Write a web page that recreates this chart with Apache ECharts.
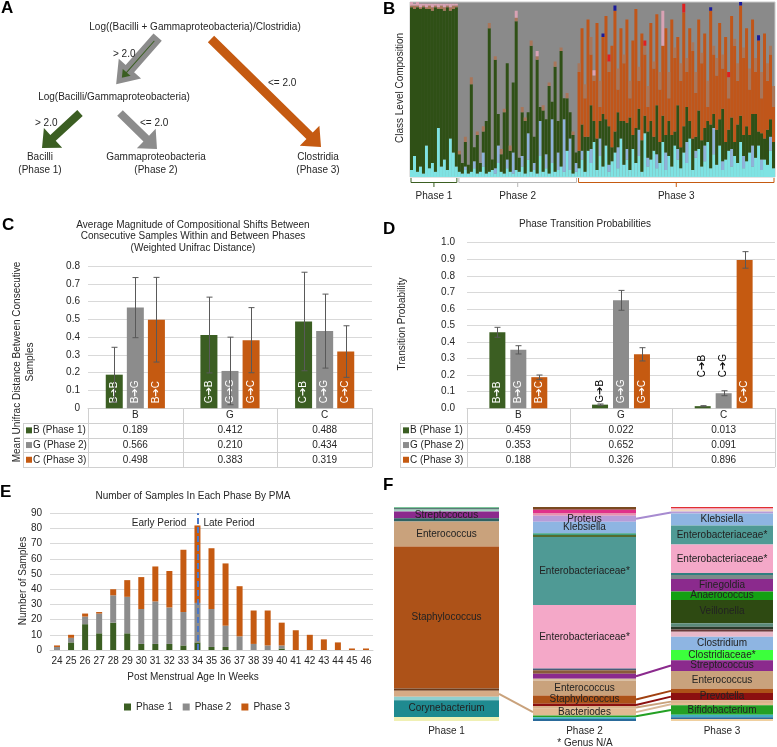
<!DOCTYPE html>
<html><head><meta charset="utf-8">
<script src="https://cdn.jsdelivr.net/npm/echarts@6/dist/echarts.min.js"></script>
<style>html,body{margin:0;padding:0;background:#fff}#c{width:777px;height:747px}</style>
</head><body><div id="c"></div>
<script>
// ======================= DATA =======================
// Panel A: decision tree texts
const aRootRule = 'Log((Bacilli + Gammaproteobacteria)/Clostridia)';
const aSubRule = 'Log(Bacilli/Gammaproteobacteria)';
const aLeaves = [['Bacilli', '(Phase 1)'], ['Gammaproteobacteria', '(Phase 2)'], ['Clostridia', '(Phase 3)']];
const aThresholds = ['> 2.0', '<= 2.0', '> 2.0', '<= 2.0'];

// Panel B: class level composition (% per sample), stacked bottom->top; remainder is Gammaproteobacteria
const bPhaseNames = ['Phase 1', 'Phase 2', 'Phase 3'];
const bCyanP1 = [4, 12, 3, 6, 2, 18, 5, 8, 3, 28, 6, 10, 4, 22, 14, 6];
const bLblueP1 = [0, 0, 0, 0, 0, 0, 0, 0, 0, 0, 0, 0, 0, 0, 0, 0];
const bGreenP1 = [93, 84, 94, 90, 95, 78, 91, 87, 94, 68, 90, 85, 93, 73, 82, 91];
const bOrangeP1 = [0, 0, 0, 0, 0, 0, 0, 0, 0, 0, 0, 0, 0, 0, 0, 0];
const bTanP1 = [1, 2, 1, 1, 1, 1, 2, 2, 1, 1, 2, 2, 1, 2, 2, 1];
const bPinkP1 = [2, 1, 2, 2, 1, 2, 1, 2, 1, 2, 1, 2, 1, 2, 1, 1];
const bRedP1 = [0, 0, 0, 0, 0, 0, 0, 0, 0, 0, 0, 0, 0, 0, 0, 0];
const bNavyP1 = [0, 0, 0, 0, 0, 0, 0, 0, 0, 0, 0, 0, 0, 0, 0, 0];

const bCyanP2 = [3, 2, 4, 2, 3, 5, 2, 3, 6, 2, 3, 4, 2, 8, 3, 2, 5, 3, 2, 4, 3, 6, 2, 10, 3, 4, 2, 12, 3, 5, 2, 8, 3, 4, 6, 3, 15, 4, 2, 3];
const bLblueP2 = [0, 0, 2, 0, 0, 4, 0, 0, 8, 0, 0, 0, 3, 10, 0, 0, 5, 0, 12, 0, 0, 6, 0, 15, 0, 4, 0, 20, 0, 8, 0, 25, 0, 10, 0, 30, 0, 18, 0, 5];
const bGreenP2 = [10, 6, 14, 5, 50, 8, 22, 5, 12, 30, 82, 6, 62, 18, 10, 35, 55, 12, 40, 85, 8, 25, 30, 12, 72, 15, 65, 8, 35, 20, 50, 10, 60, 18, 66, 12, 30, 15, 22, 6];
const bOrangeP2 = [0, 0, 0, 0, 0, 0, 0, 0, 0, 0, 0, 0, 0, 0, 0, 0, 0, 0, 0, 0, 0, 0, 0, 0, 0, 0, 0, 0, 0, 0, 0, 0, 0, 0, 0, 0, 0, 0, 0, 0];
const bTanP2 = [2, 0, 3, 0, 4, 0, 2, 0, 3, 0, 3, 0, 2, 0, 3, 2, 0, 3, 0, 2, 0, 3, 2, 0, 3, 0, 2, 0, 3, 0, 2, 0, 3, 0, 2, 0, 3, 0, 2, 0];
const bPinkP2 = [0, 0, 0, 0, 0, 0, 0, 0, 0, 0, 0, 0, 0, 0, 0, 0, 0, 0, 0, 4, 0, 0, 0, 0, 0, 0, 3, 0, 0, 0, 0, 0, 0, 0, 0, 0, 0, 0, 0, 0];
const bRedP2 = [0, 0, 0, 0, 0, 0, 0, 0, 0, 0, 0, 0, 0, 0, 0, 0, 0, 0, 0, 0, 0, 0, 0, 0, 0, 0, 0, 0, 0, 0, 0, 0, 0, 0, 0, 0, 0, 0, 0, 0];
const bNavyP2 = [0, 0, 0, 0, 0, 0, 0, 0, 0, 0, 0, 0, 0, 0, 0, 0, 0, 0, 0, 0, 0, 0, 0, 0, 0, 0, 0, 0, 0, 0, 0, 0, 0, 0, 0, 0, 0, 0, 0, 0];

const bCyanP3 = [5, 10, 3, 15, 8, 20, 4, 12, 6, 18, 3, 9, 14, 5, 22, 7, 10, 4, 16, 8, 12, 3, 25, 6, 10, 15, 5, 8, 20, 4, 12, 6, 18, 10, 5, 14, 8, 22, 4, 11, 16, 6, 9, 20, 5, 13, 7, 18, 4, 10, 15, 6, 12, 8, 20, 5, 9, 14, 6, 11, 18, 4, 10, 7, 15, 5];
const bLblueP3 = [0, 5, 0, 0, 8, 0, 0, 10, 0, 0, 4, 0, 0, 12, 0, 0, 6, 0, 0, 0, 15, 0, 0, 5, 0, 0, 8, 0, 0, 10, 0, 0, 0, 6, 0, 0, 12, 0, 0, 4, 0, 0, 9, 0, 0, 15, 0, 0, 5, 0, 0, 10, 0, 0, 0, 7, 0, 0, 12, 0, 0, 6, 0, 0, 8, 0];
const bGreenP3 = [10, 15, 20, 8, 25, 12, 18, 10, 30, 15, 22, 8, 12, 20, 10, 25, 15, 30, 8, 20, 12, 18, 10, 15, 22, 8, 28, 12, 15, 10, 20, 18, 8, 25, 12, 15, 20, 10, 18, 8, 22, 15, 10, 12, 25, 8, 20, 15, 30, 10, 12, 18, 8, 22, 15, 12, 20, 10, 18, 25, 8, 15, 12, 20, 10, 15];
const bOrangeP3 = [45, 55, 22, 67, 29, 23, 66, 8, 44, 59, 31, 58, 69, 13, 53, 33, 59, 11, 54, 68, 16, 61, 35, 14, 56, 39, 52, 30, 40, 61, 13, 66, 42, 39, 38, 65, 20, 53, 50, 25, 52, 44, 54, 8, 65, 34, 31, 55, 23, 60, 18, 58, 55, 25, 63, 44, 56, 26, 54, 24, 52, 20, 60, 28, 37, 20];
const bTanP3 = [5, 0, 8, 0, 10, 3, 0, 15, 0, 0, 6, 0, 0, 12, 0, 5, 0, 10, 0, 0, 8, 0, 5, 12, 0, 4, 0, 10, 0, 0, 15, 0, 6, 0, 10, 0, 8, 0, 5, 12, 0, 6, 0, 15, 0, 5, 10, 0, 8, 0, 12, 0, 4, 10, 0, 6, 0, 12, 0, 8, 0, 15, 0, 10, 5, 12];
const bPinkP3 = [0, 0, 0, 0, 0, 3, 0, 0, 0, 0, 0, 0, 0, 0, 0, 0, 0, 0, 0, 0, 0, 0, 0, 0, 0, 0, 0, 0, 20, 0, 0, 0, 0, 0, 0, 0, 0, 0, 0, 0, 0, 0, 0, 0, 0, 0, 0, 0, 0, 0, 0, 0, 0, 0, 0, 0, 0, 0, 0, 0, 0, 0, 0, 0, 0, 0];
const bRedP3 = [0, 0, 0, 0, 0, 0, 0, 0, 0, 0, 4, 0, 0, 0, 0, 0, 0, 0, 0, 0, 0, 0, 3, 0, 0, 0, 0, 0, 0, 0, 0, 0, 0, 0, 0, 5, 0, 0, 0, 0, 0, 0, 0, 0, 0, 0, 0, 0, 0, 0, 3, 0, 0, 0, 0, 0, 0, 0, 0, 0, 0, 0, 0, 0, 0, 0];
const bNavyP3 = [0, 0, 0, 0, 0, 0, 0, 0, 2, 0, 0, 0, 3, 0, 0, 0, 0, 0, 0, 0, 0, 0, 0, 0, 0, 0, 0, 0, 0, 0, 0, 0, 0, 0, 0, 0, 0, 0, 0, 0, 0, 0, 0, 0, 2, 0, 0, 0, 0, 0, 0, 0, 0, 0, 2, 0, 0, 0, 0, 0, 3, 0, 0, 0, 0, 0];

// Panels C & D: transitions (rows = destination phase series, columns = origin phase)
const transCats = ['B', 'G', 'C'];
const transRowNames = ['B (Phase 1)', 'G (Phase 2)', 'C (Phase 3)'];
const cTitle = ['Average Magnitude of Compositional Shifts Between', 'Consecutive Samples Within and Between Phases', '(Weighted Unifrac Distance)'];
const cToB = [0.189, 0.412, 0.488];
const cToG = [0.566, 0.210, 0.434];
const cToC = [0.498, 0.383, 0.319];
const cErrB = [0.154, 0.213, 0.277];
const cErrG = [0.169, 0.190, 0.208];
const cErrC = [0.238, 0.183, 0.145];
const dTitle = 'Phase Transition Probabilities';
const dToB = [0.459, 0.022, 0.013];
const dToG = [0.353, 0.652, 0.091];
const dToC = [0.188, 0.326, 0.896];
const dErrB = [0.030, 0.004, 0.003];
const dErrG = [0.025, 0.060, 0.015];
const dErrC = [0.013, 0.040, 0.050];

// Panel E: samples per phase by PMA
const eTitle = 'Number of Samples In Each Phase By PMA';
const eWeeks = ['24', '25', '26', '27', '28', '29', '30', '31', '32', '33', '34', '35', '36', '37', '38', '39', '40', '41', '42', '43', '44', '45', '46'];
const ePhase1 = [0, 5, 17, 11, 18, 11, 4, 4, 4, 3, 5, 2, 2, 0, 0, 0, 1, 0, 0, 0, 0, 0, 0];
const ePhase2 = [2, 3, 5, 13, 18, 24, 23, 28, 24, 22, 26, 25, 14, 9, 4, 3, 2, 0, 0, 0, 0, 0, 0];
const ePhase3 = [1, 2, 2, 1, 4, 11, 21, 23, 24, 41, 51, 40, 41, 33, 22, 23, 15, 13, 10, 7, 5, 1, 1];
const eDivideWeek = '34';

// Panel F: genus level composition per phase (% top->bottom)
const fPhases = ['Phase 1', 'Phase 2', 'Phase 3'];
const fP1Taxa = ['Other 1', 'Other 2', 'Other 3', 'Streptococcus', 'Other 4', 'Enterococcus', 'Staphylococcus', 'Other 5', 'Bacteriodes', 'Other 6', 'Corynebacterium', 'Other 7'];
const fP1Pct = [0.6, 0.6, 0.9, 3.1, 1.6, 11.6, 66.4, 1.1, 2.8, 1.6, 7.8, 1.9];
const fP1Shown = ['Streptococcus', 'Enterococcus', 'Staphylococcus', 'Corynebacterium'];
const fP2Taxa = ['Other 1', 'Other 2', 'Other 3', 'Proteus', 'Klebsiella', 'Other 4', 'Other 5', 'Enterobacteriaceae*', 'Enterobacteriaceae*', 'Other 6', 'Other 7', 'Streptococcus', 'Other 8', 'Enterococcus', 'Staphylococcus', 'Prevotella', 'Other 9', 'Bacteriodes', 'Bifidobacterium', 'Other 10', 'Other 11'];
const fP2Pct = [1.25, 1.6, 1.25, 2.8, 5.3, 0.9, 0.9, 31.7, 29.7, 0.8, 1.6, 2.3, 0.8, 7.0, 3.9, 1.1, 1.25, 3.1, 0.8, 0.9, 0.9];
const fP2Shown = ['Proteus', 'Klebsiella', 'Enterobacteriaceae*', 'Enterococcus', 'Staphylococcus', 'Bacteriodes'];
const fP3Taxa = ['Other 1', 'Other 2', 'Other 3', 'Proteus', 'Klebsiella', 'Enterobacteriaceae*', 'Enterobacteriaceae*', 'Other 4', 'Other 5', 'Finegoldia', 'Anaerococcus', 'Veillonella', 'Other 6', 'Other 7', 'Other 8', 'Other 9', 'Clostridium', 'Clostridiaceae*', 'Streptococcus', 'Enterococcus', 'Staphylococcus', 'Prevotella', 'Other 10', 'Bacteriodes', 'Bifidobacterium', 'Other 11', 'Other 12', 'Other 13'];
const fP3Pct = [0.6, 0.6, 0.9, 0.9, 5.6, 8.9, 13.3, 0.9, 1.9, 5.8, 3.9, 10.9, 1.6, 1.25, 1.1, 2.3, 6.25, 4.7, 5.0, 8.3, 2.0, 3.4, 1.25, 1.1, 4.4, 1.1, 0.9, 0.9];
const fP3Shown = ['Klebsiella', 'Enterobacteriaceae*', 'Finegoldia', 'Anaerococcus', 'Veillonella', 'Clostridium', 'Clostridiaceae*', 'Streptococcus', 'Enterococcus', 'Prevotella', 'Bifidobacterium'];
const fLinks = [[0, 'Bacteriodes', 1, 'Bacteriodes'], [1, 'Proteus', 2, 'Proteus'], [1, 'Streptococcus', 2, 'Streptococcus'], [1, 'Staphylococcus', 2, 'Staphylococcus'], [1, 'Prevotella', 2, 'Prevotella'], [1, 'Other 9', 2, 'Other 10'], [1, 'Bacteriodes', 2, 'Bacteriodes'], [1, 'Bifidobacterium', 2, 'Bifidobacterium']];
const fNote = '* Genus N/A';

// ======================= STYLE / LAYOUT =======================
const FONT = '"Liberation Sans", Arial, "DejaVu Sans", sans-serif';
const TXT = '#262626';
const GREEN = '#3b5e22', GRAY = '#8c8c8c', ORANGE = '#c55a11';
const phaseCols = [GREEN, GRAY, ORANGE];
const bColors = ['#7fe3e3', '#8eb2da', '#2f5016', '#c0561a', '#a8765a', '#d9a2b4', '#e02020', '#1a1a9a'];
const bSeriesNames = ['Actinobacteria', 'Bacteroidia', 'Bacilli', 'Clostridia', 'Other Clostridia', 'Other a', 'Other b', 'Other c'];
const fP1Colors = ['#7cc79a', '#2f5050', '#a6d4c4', '#8b2a8d', '#2f6262', '#c9a27c', '#ad5218', '#6b3a1a', '#d6ab86', '#8fd0d0', '#1f8a90', '#f0f0b4'];
const fP2Colors = ['#7a4a20', '#e0308a', '#e890b0', '#b79bd8', '#8eb5e2', '#40a080', '#556b2f', '#4f9a95', '#f4a8c8', '#4a5a7a', '#8a5a3a', '#8b2a8d', '#d8c0a0', '#c9a27c', '#ad5218', '#8b1010', '#d9b38c', '#e2ba92', '#24a024', '#40b0c0', '#2a6a9a'];
const fP3Colors = ['#e03030', '#f090b0', '#f0d8c0', '#b79bd8', '#8eb5e2', '#4f9a95', '#f4a8c8', '#2f7f7f', '#7a8a8a', '#8b2a8d', '#13a013', '#2e4a12', '#5a8a7a', '#2a3a2a', '#6a3a3a', '#e8b8c8', '#8eb5e2', '#3cff3c', '#8b2a8d', '#c9a27c', '#ad5218', '#8b1010', '#d9b38c', '#e2ba92', '#24a024', '#40b0c0', '#2a6a9a', '#f0d0a0'];
const linkColors = ['#c9a27c', '#a78bd0', '#8b2a8d', '#a04010', '#8b1010', '#c9a27c', '#d8b898', '#24a024'];
const dOutsideGap = {'G➔B': 2, 'C➔B': 29, 'C➔G': 16};

const gB = {left: 410, top: 2, width: 365, height: 175};
const gC = {left: 88, top: 266, width: 284, height: 142.3};
const gD = {left: 467, top: 242.7, width: 308, height: 165.6};
const gE = {left: 50, top: 513.3, width: 323, height: 136.7};
const gF = [{left: 394, top: 507, width: 105, height: 214}, {left: 533, top: 507, width: 103, height: 214}, {left: 671, top: 507, width: 102, height: 214}];
const ROWH = 14.7;

// ======================= BUILD =======================
const chart = echarts.init(document.getElementById('c'));
const grids = [gB, gC, gD, gE].concat(gF).map(g => Object.assign({containLabel: false, outerBoundsMode: 'none'}, g));

const bSeriesData = [
  bCyanP1.concat(bCyanP2, bCyanP3), bLblueP1.concat(bLblueP2, bLblueP3), bGreenP1.concat(bGreenP2, bGreenP3),
  bOrangeP1.concat(bOrangeP2, bOrangeP3), bTanP1.concat(bTanP2, bTanP3), bPinkP1.concat(bPinkP2, bPinkP3),
  bRedP1.concat(bRedP2, bRedP3), bNavyP1.concat(bNavyP2, bNavyP3)];
const bPhaseLens = [bCyanP1.length, bCyanP2.length, bCyanP3.length];

const axisFont = {fontSize: 10, color: TXT, fontFamily: FONT};
const fmt3 = v => v.toFixed(3);
function tableAxis(gi, rows) {
  return {
    type: 'category', gridIndex: gi, data: transCats,
    axisLine: {show: true, lineStyle: {color: '#d0d0d0'}}, axisTick: {show: false},
    axisLabel: {
      interval: 0, margin: 0,
      formatter: (v, i) => ['{h|' + v + '}'].concat(rows.map(r => '{v|' + fmt3(r[i]) + '}')).join('\n'),
      rich: {h: Object.assign({lineHeight: ROWH}, axisFont), v: Object.assign({lineHeight: ROWH}, axisFont)}
    }
  };
}
function valAxis(gi, max, interval, formatter) {
  return {type: 'value', gridIndex: gi, min: 0, max: max, interval: interval,
    axisLine: {show: false}, axisTick: {show: false},
    axisLabel: Object.assign({formatter: formatter, margin: 8}, axisFont),
    splitLine: {lineStyle: {color: '#d9d9d9'}}};
}

const xAxes = [
  {type: 'category', gridIndex: 0, show: false},
  tableAxis(1, [cToB, cToG, cToC]),
  tableAxis(2, [dToB, dToG, dToC]),
  {type: 'category', gridIndex: 3, data: eWeeks, axisLine: {lineStyle: {color: '#d0d0d0'}}, axisTick: {show: false},
    axisLabel: Object.assign({interval: 0, margin: 6}, axisFont)}
];
const yAxes = [
  {type: 'value', gridIndex: 0, min: 0, max: 100, show: false},
  valAxis(1, 0.8, 0.1, v => v === 0 ? '0' : v.toFixed(1)),
  Object.assign(valAxis(2, 1.0, 0.1, v => v.toFixed(1)), {axisLabel: Object.assign({formatter: v => v.toFixed(1), margin: 12}, axisFont)}),
  valAxis(3, 90, 10, v => String(v))
];
const fTaxa = [fP1Taxa, fP2Taxa, fP3Taxa], fPct = [fP1Pct, fP2Pct, fP3Pct], fShown = [fP1Shown, fP2Shown, fP3Shown], fCols = [fP1Colors, fP2Colors, fP3Colors];
fPhases.forEach((p, k) => {
  xAxes.push({type: 'category', gridIndex: 4 + k, data: [p], axisLine: {show: false}, axisTick: {show: false},
    axisLabel: Object.assign({margin: 5}, axisFont)});
  yAxes.push({type: 'value', gridIndex: 4 + k, min: 0, max: fPct[k].reduce((a, b) => a + b, 0), inverse: true, show: false});
});

const series = [];
// B
bSeriesData.forEach((d, k) => series.push({type: 'bar', name: bSeriesNames[k], xAxisIndex: 0, yAxisIndex: 0, stack: 'b',
  barWidth: '100%', barCategoryGap: '0%', data: d, itemStyle: {color: bColors[k]}, silent: true}));

// C & D
const letters = transCats;
function errRender(k, barW, gap) {
  return function (params, api) {
    const i = api.value(0), v = api.value(1), e = api.value(2);
    const c = api.coord([i, v]);
    const x = Math.round(c[0] + (k - 1) * (barW + gap)) + 0.5;
    const top = api.coord([i, v + e])[1], bot = api.coord([i, Math.max(0, v - e)])[1];
    const st = {stroke: '#595959', lineWidth: 1};
    return {type: 'group', children: [
      {type: 'line', shape: {x1: x, y1: top, x2: x, y2: bot}, style: st},
      {type: 'line', shape: {x1: x - 3, y1: top, x2: x + 3, y2: top}, style: st},
      {type: 'line', shape: {x1: x - 3, y1: bot, x2: x + 3, y2: bot}, style: st}]};
  };
}
function addTransition(ai, rows, errs, barW, gapPct, outsideGap) {
  rows.forEach((vals, k) => {
    series.push({
      type: 'bar', name: transRowNames[k], xAxisIndex: ai, yAxisIndex: ai, barWidth: barW, barGap: gapPct + '%',
      itemStyle: {color: phaseCols[k]},
      label: {show: true, position: 'insideBottom', rotate: 90, align: 'left', verticalAlign: 'middle', distance: 5,
        color: '#fff', fontSize: 10, fontFamily: FONT, formatter: p => letters[p.dataIndex] + '➔' + letters[k]},
      data: vals.map((v, i) => {
        const lab = letters[i] + '➔' + letters[k];
        if (outsideGap && outsideGap[lab] !== undefined) return {value: v, label: {position: 'top', distance: outsideGap[lab], color: '#000'}};
        return v;
      })
    });
    series.push({type: 'custom', xAxisIndex: ai, yAxisIndex: ai, z: 10, silent: true,
      renderItem: errRender(k, barW, barW * gapPct / 100), encode: {x: 0, y: 1},
      data: vals.map((v, i) => [i, v, errs[k][i]])});
  });
}
addTransition(1, [cToB, cToG, cToC], [cErrB, cErrG, cErrC], 17, 24, null);
addTransition(2, [dToB, dToG, dToC], [dErrB, dErrG, dErrC], 16, 31, dOutsideGap);

// E
[ePhase1, ePhase2, ePhase3].forEach((d, k) => {
  const s = {type: 'bar', name: bPhaseNames[k], xAxisIndex: 3, yAxisIndex: 3, stack: 'e', barWidth: 6, data: d, itemStyle: {color: phaseCols[k]}};
  if (k === 2) s.markLine = {symbol: 'none', silent: true, label: {show: false}, lineStyle: {type: [6, 3], color: '#4a78c8', width: 2},
    data: [{xAxis: eDivideWeek}]};
  series.push(s);
});

// F
fTaxa.forEach((taxa, p) => {
  taxa.forEach((t, j) => {
    series.push({type: 'bar', name: t, xAxisIndex: 4 + p, yAxisIndex: 4 + p, stack: 'f' + p, barWidth: '100%',
      data: [fPct[p][j]], itemStyle: {color: fCols[p][j]}, silent: true,
      label: {show: fShown[p].includes(t), position: 'inside', formatter: t, fontSize: 10, color: '#222', fontFamily: FONT}});
  });
});

chart.setOption({
  animation: false, backgroundColor: '#fff',
  textStyle: {fontFamily: FONT},
  grid: grids.map((g, i) => i === 0 ? Object.assign({show: true, backgroundColor: '#8a8a8a', borderColor: '#c8c8c8', borderWidth: 1}, g) : g),
  xAxis: xAxes, yAxis: yAxes, series: series,
  legend: {data: bPhaseNames, left: 119, top: 697, icon: 'rect', itemWidth: 7, itemHeight: 7, itemGap: 10,
    textStyle: {fontSize: 10, color: TXT, fontFamily: FONT}, selectedMode: false}
});

// ======================= GRAPHICS =======================
const G = [];
function txt(x, y, text, opt) {
  opt = opt || {};
  G.push({type: 'text', x: x, y: y, rotation: opt.rot || 0, z: 50,
    style: {text: text, fill: opt.color || TXT, fontSize: opt.size || 10, fontWeight: opt.weight || 'normal',
      fontFamily: FONT, align: opt.align || 'center', verticalAlign: opt.va || 'middle', lineHeight: opt.lh}});
}
function line(x1, y1, x2, y2, color, w) {
  G.push({type: 'line', z: 40, shape: {x1: x1, y1: y1, x2: x2, y2: y2}, style: {stroke: color, lineWidth: w || 1}});
}
function arrow(x1, y1, x2, y2, sw, hw, hl, fill, stroke, lw) {
  const dx = x2 - x1, dy = y2 - y1, L = Math.hypot(dx, dy), ux = dx / L, uy = dy / L, px = -uy, py = ux;
  const bx = x2 - ux * hl, by = y2 - uy * hl;
  const pts = [[x1 + px * sw / 2, y1 + py * sw / 2], [bx + px * sw / 2, by + py * sw / 2], [bx + px * hw / 2, by + py * hw / 2], [x2, y2],
    [bx - px * hw / 2, by - py * hw / 2], [bx - px * sw / 2, by - py * sw / 2], [x1 - px * sw / 2, y1 - py * sw / 2]];
  G.push({type: 'polygon', z: 30, shape: {points: pts}, style: {fill: fill, stroke: stroke || null, lineWidth: lw || 0, lineJoin: 'miter'}});
}

// Panel letters
[['A', 1, 0], ['B', 383, 1], ['C', 2, 217], ['D', 383, 221], ['E', 0, 484], ['F', 383, 477]].forEach(l =>
  txt(l[1], l[2], l[0], {size: 17, weight: 'bold', align: 'left', va: 'top', color: '#000'}));

// Panel A
txt(195, 27, aRootRule);
txt(114, 97, aSubRule);
arrow(156, 39, 119, 81, 6, 20, 14, GREEN, GRAY, 5);
arrow(80, 113, 42, 148, 8, 27, 15, GREEN);
arrow(120, 113, 157, 149, 8, 27, 15, GRAY);
arrow(211, 39, 321, 147, 9, 28, 16, ORANGE);
txt(113, 54, aThresholds[0], {align: 'left'});
txt(268, 83, aThresholds[1], {align: 'left'});
txt(35, 123, aThresholds[2], {align: 'left'});
txt(140, 123, aThresholds[3], {align: 'left'});
[40, 156, 318].forEach((x, i) => { txt(x, 157, aLeaves[i][0]); txt(x, 170, aLeaves[i][1]); });

// Panel B
txt(400, 88, 'Class Level Composition', {rot: Math.PI / 2});
{
  let start = 0;
  const bw = chart.convertToPixel({xAxisIndex: 0}, 1) - chart.convertToPixel({xAxisIndex: 0}, 0);
  bPhaseLens.forEach((n, k) => {
    const xa = chart.convertToPixel({xAxisIndex: 0}, start) - bw / 2 + 1;
    const xb = chart.convertToPixel({xAxisIndex: 0}, start + n - 1) + bw / 2 - 1;
    const col = k === 1 ? '#b8b8b8' : phaseCols[k];
    const yb = 182.5, mid = (xa + xb) / 2;
    line(xa, 178, xa, yb, col, 1); line(xb, 178, xb, yb, col, 1); line(xa, yb, xb, yb, col, 1); line(mid, yb, mid, 187, col, 1);
    txt(mid, 196, bPhaseNames[k]);
    start += n;
  });
}

// Panels C & D titles + tables
cTitle.forEach((t, i) => txt(193, 225 + i * 11.7, t));
txt(23.5, 362, 'Mean Unifrac Distance Between Consecutive\nSamples', {rot: Math.PI / 2, lh: 13});
txt(585, 224, dTitle);
txt(402, 324, 'Transition Probability', {rot: Math.PI / 2});
function table(g, tLeft) {
  const top = g.top + g.height, right = g.left + g.width, lc = '#d0d0d0';
  const bottom = top + ROWH * 4;
  for (let r = 1; r <= 4; r++) line(tLeft, Math.round(top + r * ROWH) + 0.5, right, Math.round(top + r * ROWH) + 0.5, lc);
  line(tLeft + 0.5, top + ROWH, tLeft + 0.5, bottom, lc);
  for (let c = 0; c <= 3; c++) { const x = Math.round(g.left + c * g.width / 3) + 0.5; line(x, top, x, bottom, lc); }
  transRowNames.forEach((n, k) => {
    const cy = top + ROWH * (k + 1.5);
    G.push({type: 'rect', z: 40, shape: {x: tLeft + 3, y: cy - 3, width: 6, height: 6}, style: {fill: phaseCols[k]}});
    txt(tLeft + 10, cy, n, {align: 'left'});
  });
}
table(gC, 23);
table(gD, 400);

// Panel E
txt(193, 496, eTitle);
txt(23, 581, 'Number of Samples', {rot: Math.PI / 2});
txt(193, 677, 'Post Menstrual Age In Weeks');
txt(159, 523, 'Early Period');
txt(229, 523, 'Late Period');

// Panel F links
function bandMid(p, name) {
  const j = fTaxa[p].indexOf(name);
  let c = 0; for (let i = 0; i < j; i++) c += fPct[p][i];
  return chart.convertToPixel({yAxisIndex: 4 + p}, c + fPct[p][j] / 2);
}
fLinks.forEach((l, i) => {
  const y1 = bandMid(l[0], l[1]), y2 = bandMid(l[2], l[3]);
  const x1 = gF[l[0]].left + gF[l[0]].width, x2 = gF[l[2]].left;
  line(x1, y1, x2, y2, linkColors[i], 2);
});
txt(585, 743, fNote);

chart.setOption({graphic: {elements: G}});
</script></body></html>
